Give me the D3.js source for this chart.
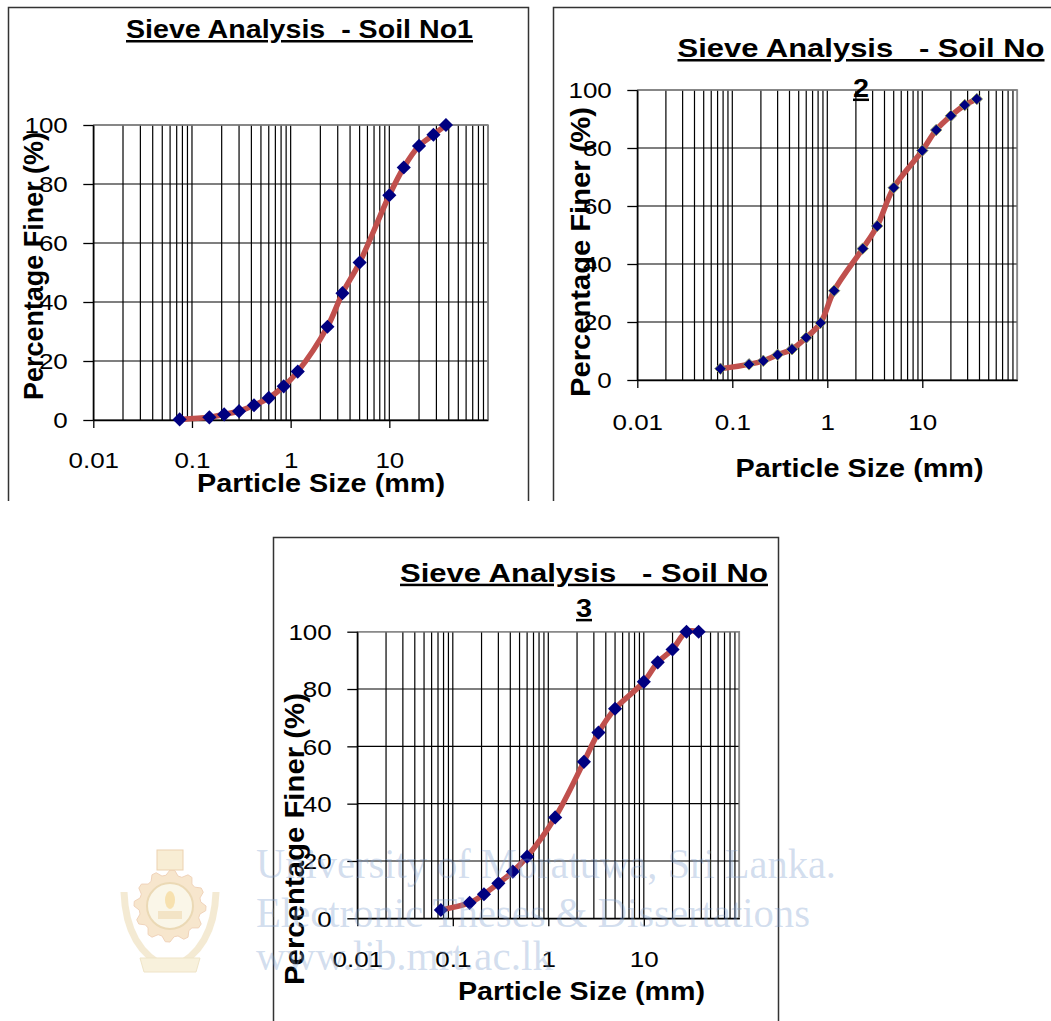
<!DOCTYPE html>
<html>
<head>
<meta charset="UTF-8">
<script src="https://cdn.jsdelivr.net/npm/d3@7"></script>
<title>Sieve Analysis</title>
<style>
  body { margin: 0; background: #fff; }
  text { font-family: "Liberation Sans", Arial, sans-serif; }
</style>
</head>
<body>
<svg id="chart"></svg>
<script>

// sieve sizes (mm) and percentage passing
const sieveSizes = [0.075, 0.15, 0.212, 0.3, 0.425, 0.6, 0.85, 1.18, 2.36, 3.35, 5, 10, 14, 20, 28, 37.5];
const passing1 = [0.2, 0.9, 1.9, 3.0, 5.0, 7.5, 11.4, 16.4, 31.6, 43.0, 53.4, 76.2, 85.6, 92.9, 96.7, 100];
const passing2 = [3.9, 5.4, 6.6, 8.7, 10.6, 14.6, 19.7, 30.8, 45.3, 53.1, 66.3, 79.1, 86.2, 91.1, 94.8, 96.9];
const sieveSizes3 = [0.075, 0.15, 0.212, 0.3, 0.425, 0.6, 1.18, 2.36, 3.35, 5, 10, 14, 20, 28, 37.5];
const passing3 = [2.9, 5.4, 8.4, 12.2, 16.3, 21.5, 35.2, 54.6, 64.8, 73.1, 82.5, 89.3, 93.8, 100, 100];

const xTickValues = [0.01, 0.1, 1, 10];
const yTickValues = [0, 20, 40, 60, 80, 100];
const titles = [
  ["Sieve Analysis  - Soil No1"],
  ["Sieve Analysis   - Soil No", "2"],
  ["Sieve Analysis   - Soil No", "3"]
];
const xTitle = "Particle Size (mm)";
const yTitle = "Percentage Finer (%)";
const watermark = ["University of Moratuwa, Sri Lanka.", "Electronic Theses & Dissertations", "www.lib.mrt.ac.lk"];

const width = 1051, height = 1021;
const sx = 1.15; // the picture is a bit wider than tall

// layout of the three panels
const panels = [
  {
    sizes: sieveSizes, pct: passing1,
    frame: {l: 8.5, t: 7.5, r: 528.5, b: 501, right: true},
    plot: {l: 93.3, r: 488, t: 125, b: 420},
    title: {cx: 299.5, y: [38], w: [347]},
    yT: {x: 43, cy: 266, len: 268},
    xT: {cx: 321, y: 491.7, w: 248},
    xLab: 48, yLab: 25.5, marker: 100, outline: "none"
  },
  {
    sizes: sieveSizes, pct: passing2,
    frame: {l: 553.5, t: 7.5, r: 1060, b: 501, right: false},
    plot: {l: 637.3, r: 1017.3, t: 90, b: 380},
    title: {cx: 861, y: [57, 96.7], w: [367]},
    yT: {x: 590, cy: 252, len: 290},
    xT: {cx: 859.5, y: 476.7, w: 248},
    xLab: 50, yLab: 25.5, marker: 66, outline: "#9aa35a"
  },
  {
    sizes: sieveSizes3, pct: passing3,
    frame: {l: 273.5, t: 537.5, r: 778.5, b: 1030, right: true},
    plot: {l: 357.3, r: 739.3, t: 631.7, b: 918.3},
    title: {cx: 584, y: [581.7, 617], w: [368]},
    yT: {x: 304, cy: 839, len: 292},
    xT: {cx: 581.5, y: 1000, w: 247},
    xLab: 48.5, yLab: 25.6, marker: 100, outline: "none"
  }
];

const svg = d3.select("#chart")
  .attr("width", width)
  .attr("height", height)
  .attr("viewBox", [0, 0, width, height]);

// faded university emblem behind the watermark
const emb = svg.append("g").attr("opacity", 0.5);
const gear = d3.range(0, 48).map(i => {
  const a = i / 48 * 2 * Math.PI;
  const r = (Math.floor(i / 2) % 2 === 0) ? 36 : 31;
  return [170 + r * Math.cos(a), 906 + r * Math.sin(a)];
});
emb.append("path").attr("d", "M124,892 Q126,950 168,968").attr("fill", "none").attr("stroke", "#ead7a8").attr("stroke-width", 7);
emb.append("path").attr("d", "M216,892 Q214,950 172,968").attr("fill", "none").attr("stroke", "#ead7a8").attr("stroke-width", 7);
emb.append("path")
  .attr("d", d3.line().curve(d3.curveLinearClosed)(gear))
  .attr("fill", "#f0cf9c").attr("stroke", "#e2a978").attr("stroke-width", 1);
emb.append("circle").attr("cx", 170).attr("cy", 906).attr("r", 23)
  .attr("fill", "#f7eed2").attr("stroke", "#d8b46e").attr("stroke-width", 2);
emb.append("ellipse").attr("cx", 170).attr("cy", 900).attr("rx", 5).attr("ry", 9).attr("fill", "#f0c462");
emb.append("rect").attr("x", 158).attr("y", 911).attr("width", 24).attr("height", 8).attr("fill", "#e9cb8e");
emb.append("rect").attr("x", 157).attr("y", 850).attr("width", 26).attr("height", 20)
  .attr("fill", "#f2dcaa").attr("stroke", "#dca564");
emb.append("path").attr("d", "M140,958 L200,958 L196,972 L144,972 Z").attr("fill", "#f3e4ba").attr("stroke", "#e0cb92");

panels.forEach((p, i) => {
  const g = svg.append("g");
  const f = p.frame;

  // chart frame
  const framePts = [[f.l, f.b], [f.l, f.t], [f.r, f.t]];
  if (f.right) framePts.push([f.r, f.b]);
  g.append("path")
    .attr("d", d3.line()(framePts))
    .attr("fill", "none").attr("stroke", "#333").attr("stroke-width", 1.5);

  const x = d3.scaleLog().domain([0.01, 100]).range([p.plot.l, p.plot.r]);
  const y = d3.scaleLinear().domain([0, 100]).range([p.plot.b, p.plot.t]);

  // log grid: 1..9 in every decade
  const vGrid = [];
  [0.01, 0.1, 1, 10].forEach(d => d3.range(1, 10).forEach(k => vGrid.push(d * k)));
  vGrid.push(100);

  g.append("g").selectAll("line").data(vGrid).join("line")
    .attr("x1", d => x(d)).attr("x2", d => x(d))
    .attr("y1", y(0)).attr("y2", y(100))
    .attr("stroke", "#000").attr("stroke-width", 1.2);

  g.append("g").selectAll("line").data(yTickValues).join("line")
    .attr("x1", x(0.01)).attr("x2", x(100))
    .attr("y1", d => y(d)).attr("y2", d => y(d))
    .attr("stroke", "#000").attr("stroke-width", 1.2);

  // plot border (top/right in grey)
  g.append("path")
    .attr("d", d3.line()([[x(0.01), y(100)], [x(100), y(100)], [x(100), y(0)]]))
    .attr("fill", "none").attr("stroke", "#8a8a8a").attr("stroke-width", 1.6);

  // axes
  const yAxis = g.append("g")
    .attr("transform", `translate(${p.plot.l},0)`)
    .call(d3.axisLeft(y).tickValues(yTickValues).tickSize(10).tickSizeOuter(0).tickFormat(d => d));
  yAxis.select(".domain").attr("stroke", "#000").attr("stroke-width", 1.4);
  yAxis.selectAll(".tick line").attr("stroke", "#000").attr("stroke-width", 1.3);
  yAxis.selectAll(".tick text")
    .attr("x", 0).attr("dy", "0.36em")
    .attr("transform", `translate(${-p.yLab},0) scale(1.18,1)`)
    .attr("font-size", 22).attr("fill", "#000");

  const xAxis = g.append("g")
    .attr("transform", `translate(0,${p.plot.b})`)
    .call(d3.axisBottom(x).tickValues(xTickValues).tickSize(8).tickSizeOuter(0).tickFormat(d => String(d)));
  xAxis.select(".domain").attr("stroke", "#000").attr("stroke-width", 1.4);
  xAxis.selectAll(".tick line").attr("stroke", "#000").attr("stroke-width", 1.3);
  xAxis.selectAll(".tick text")
    .attr("y", 0).attr("dy", null)
    .attr("transform", `translate(0,${p.xLab}) scale(1.18,1)`)
    .attr("font-size", 22).attr("fill", "#000");

  // grading curve
  const data = p.sizes.map((s, k) => ({size: s, pct: p.pct[k]}));
  g.append("path")
    .datum(data)
    .attr("d", d3.line().x(d => x(d.size)).y(d => y(d.pct)).curve(d3.curveCatmullRom.alpha(0.5)))
    .attr("fill", "none").attr("stroke", "#c0504d").attr("stroke-width", 5.5)
    .attr("stroke-linejoin", "round");

  g.append("g").selectAll("path").data(data).join("path")
    .attr("d", d3.symbol(d3.symbolSquare, p.marker))
    .attr("transform", d => `translate(${x(d.size)},${y(d.pct)}) rotate(45)`)
    .attr("fill", "#000080")
    .attr("stroke", p.outline).attr("stroke-width", 0.8);

  // title
  titles[i].forEach((t, k) => {
    const tt = g.append("text")
      .attr("x", p.title.cx).attr("y", p.title.y[k])
      .attr("text-anchor", "middle")
      .attr("font-size", 25).attr("font-weight", "bold")
      .attr("text-decoration", "underline")
      .style("white-space", "pre")
      .text(t);
    if (p.title.w[k]) {
      tt.attr("textLength", p.title.w[k]).attr("lengthAdjust", "spacingAndGlyphs");
    } else {
      tt.attr("x", 0).attr("y", 0)
        .attr("transform", `translate(${p.title.cx},${p.title.y[k]}) scale(${sx},1)`);
    }
  });

  // axis titles
  g.append("text")
    .attr("x", p.xT.cx).attr("y", p.xT.y)
    .attr("text-anchor", "middle")
    .attr("font-size", 25).attr("font-weight", "bold")
    .attr("textLength", p.xT.w).attr("lengthAdjust", "spacingAndGlyphs")
    .text(xTitle);

  g.append("text")
    .attr("transform", `translate(${p.yT.x},${p.yT.cy}) rotate(-90)`)
    .attr("text-anchor", "middle")
    .attr("font-size", 27).attr("font-weight", "bold")
    .attr("textLength", p.yT.len).attr("lengthAdjust", "spacingAndGlyphs")
    .text(yTitle);
});

// repository watermark over the third chart
const wm = [
  {x: 256, y: 878, w: 580},
  {x: 256, y: 927, w: 554},
  {x: 256, y: 970, w: 297}
];
svg.append("g").selectAll("text").data(watermark).join("text")
  .attr("x", (d, k) => wm[k].x).attr("y", (d, k) => wm[k].y)
  .attr("textLength", (d, k) => wm[k].w).attr("lengthAdjust", "spacingAndGlyphs")
  .style("font-family", "'Liberation Serif', 'Times New Roman', serif")
  .attr("font-size", 42)
  .attr("fill", "#7f9fcf").attr("fill-opacity", 0.35)
  .text(d => d);

</script>
</body>
</html>
